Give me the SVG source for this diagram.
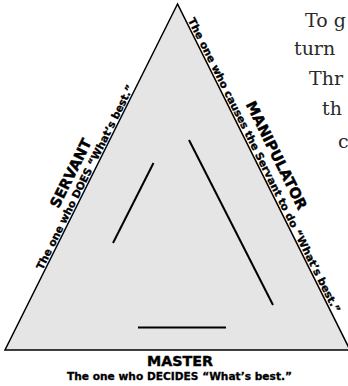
<svg xmlns="http://www.w3.org/2000/svg" width="348" height="386" viewBox="0 0 348 386">
<style>
.bg{fill:#ffffff}
.tri{fill:#e5e5e5;stroke:#000;stroke-width:1.5;stroke-linejoin:miter}
.ln{stroke:#000;stroke-width:2;fill:none}
.big{font-family:"DejaVu Sans","Liberation Sans",sans-serif;font-weight:bold;font-size:14.5px;fill:#000;stroke:#000;stroke-width:0.4}
.sub{font-family:"DejaVu Sans","Liberation Sans",sans-serif;font-weight:bold;font-size:10.5px;fill:#000;stroke:#000;stroke-width:0.3}
.page{font-family:"DejaVu Serif","Liberation Serif",serif;font-size:19px;fill:#2a2a2a}
</style>
<rect class="bg" x="0" y="0" width="348" height="386"/>
<g id="page-text">
<text class="page" x="305" y="27">To g</text>
<text class="page" x="294" y="55">turn</text>
<text class="page" x="309" y="85">Thr</text>
<text class="page" x="322" y="115">th</text>
<text class="page" x="338" y="148">c</text>
</g>
<g id="triangle">
<polygon class="tri" points="177.5,4 5,350 350,350"/>
</g>
<g id="connectors">
<line class="ln" x1="153.5" y1="163" x2="113" y2="243"/>
<line class="ln" x1="189" y1="140" x2="273" y2="305"/>
<line class="ln" x1="138" y1="327.5" x2="226" y2="327.5"/>
</g>
<g id="master">
<text class="big" x="180" y="366" text-anchor="middle" textLength="66" lengthAdjust="spacingAndGlyphs">MASTER</text>
<text class="sub" x="179.5" y="380" text-anchor="middle" textLength="225" lengthAdjust="spacingAndGlyphs">The one who DECIDES “What’s best.”</text>
</g>
<g id="servant">
<text class="big" transform="translate(58.5,209.1) rotate(-63.5)" textLength="75" lengthAdjust="spacingAndGlyphs">SERVANT</text>
<text class="sub" transform="translate(42.5,270.4) rotate(-63.5)" textLength="205" lengthAdjust="spacingAndGlyphs">The one who DOES “What’s best.”</text>
</g>
<g id="manipulator">
<text class="big" transform="translate(245.4,104.3) rotate(63.5)" textLength="119" lengthAdjust="spacingAndGlyphs">MANIPULATOR</text>
<text class="sub" transform="translate(187.8,20.1) rotate(63.5)" textLength="328" lengthAdjust="spacingAndGlyphs">The one who causes the Servant to do “What’s best.”</text>
</g>
</svg>
